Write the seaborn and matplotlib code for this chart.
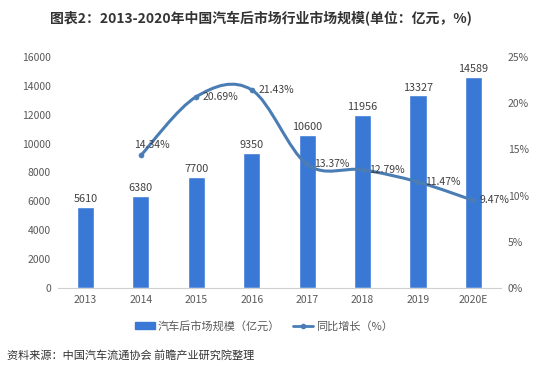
import numpy as np
import pandas as pd
import matplotlib
matplotlib.use('Agg')
import matplotlib.pyplot as plt
from matplotlib.path import Path
from matplotlib.patches import PathPatch
import seaborn as sns

# ──────────────────────────────────────────────────────────────────────────────
# Dados
# ──────────────────────────────────────────────────────────────────────────────
anos = ['2013', '2014', '2015', '2016', '2017', '2018', '2019', '2020E']
mercado = [5610, 6380, 7700, 9350, 10600, 11956, 13327, 14589]
anos_cresc = ['2014', '2015', '2016', '2017', '2018', '2019', '2020E']
crescimento = [14.34, 20.69, 21.43, 13.37, 12.79, 11.47, 9.47]

COR_BARRA = '#3a78d6'
COR_LINHA = '#4b7db5'
COR_TEXTO = '#595959'

sns.set_style('white')
plt.rcParams['font.family'] = ['Noto Sans CJK SC', 'DejaVu Sans']

df_bar = pd.DataFrame({'ano': anos, 'valor': mercado})

fig = plt.figure(figsize=(5.5, 3.74), dpi=100)
ax = fig.add_axes([0.105, 0.23, 0.806, 0.618])

sns.barplot(data=df_bar, x='ano', y='valor', color=COR_BARRA, width=0.31,
            saturation=1, ax=ax)
ax.set_xlim(-0.5, 7.5)
ax.set_ylim(0, 16000)
ax.set_yticks(np.arange(0, 16001, 2000))
ax.set_xlabel('')
ax.set_ylabel('')
for s in ['top', 'right', 'left']:
    ax.spines[s].set_visible(False)
ax.spines['bottom'].set_color('#d0d0d0')
ax.tick_params(axis='both', length=0, labelsize=7.5, colors=COR_TEXTO, pad=5)

for i, v in enumerate(mercado):
    ax.text(i, v + 200, str(v), ha='center', va='bottom', fontsize=7.8,
            color='#404040')

# eixo secundário: crescimento
ax2 = ax.twinx()
ax2.set_ylim(0, 25)
ax2.set_yticks(np.arange(0, 26, 5))
ax2.set_yticklabels([f'{t}%' for t in range(0, 26, 5)])
for s in ['top', 'right', 'left', 'bottom']:
    ax2.spines[s].set_visible(False)
ax2.tick_params(axis='y', length=0, labelsize=7.5, colors=COR_TEXTO, pad=5)

xs = np.array([anos.index(a) for a in anos_cresc], dtype=float)
ys = np.array(crescimento)

# linha suavizada (estilo Excel) com curvas de Bézier
t = 0.5 / 3
verts = [(xs[0], ys[0])]
codes = [Path.MOVETO]
for i in range(len(xs) - 1):
    x0, y0 = (xs[i - 1], ys[i - 1]) if i > 0 else (xs[i], ys[i])
    x3, y3 = (xs[i + 2], ys[i + 2]) if i + 2 < len(xs) else (xs[i + 1], ys[i + 1])
    c1 = (xs[i] + (xs[i + 1] - x0) * t, ys[i] + (ys[i + 1] - y0) * t)
    c2 = (xs[i + 1] - (x3 - xs[i]) * t, ys[i + 1] - (y3 - ys[i]) * t)
    verts += [c1, c2, (xs[i + 1], ys[i + 1])]
    codes += [Path.CURVE4] * 3
ax2.add_patch(PathPatch(Path(verts, codes), facecolor='none',
                        edgecolor=COR_LINHA, lw=2.2, capstyle='round'))
sns.scatterplot(x=xs, y=ys, color=COR_LINHA, s=14, edgecolor=COR_LINHA,
                ax=ax2, zorder=5)

for k, (x, y) in enumerate(zip(xs, ys)):
    if k == 0:
        ax2.text(x + 0.2, y + 1.1, f'{y:.2f}%', ha='center', va='center',
                 fontsize=7.5, color='#404040')
    else:
        ax2.text(x + 0.12, y, f'{y:.2f}%', ha='left', va='center',
                 fontsize=7.5, color='#404040')

# legenda
handles = [
    plt.Rectangle((0, 0), 1, 1, color=COR_BARRA),
    plt.Line2D([], [], color=COR_LINHA, lw=2, marker='o', markersize=3),
]
fig.legend(handles, ['汽车后市场规模（亿元）', '同比增长（%）'],
           loc='center', bbox_to_anchor=(0.48, 0.128), ncol=2, frameon=False,
           fontsize=8, handlelength=1.8, handleheight=0.6, columnspacing=1.2,
           labelcolor=COR_TEXTO, handletextpad=0.2)

fig.text(0.475, 0.953, '图表2：2013-2020年中国汽车后市场行业市场规模(单位：亿元，%)',
         ha='center', va='center', fontsize=10, fontweight='bold',
         color='#333333')
fig.text(0.013, 0.05, '资料来源：中国汽车流通协会 前瞻产业研究院整理',
         ha='left', va='center', fontsize=8, color='#333333')

fig.savefig('out.png', dpi=100)
